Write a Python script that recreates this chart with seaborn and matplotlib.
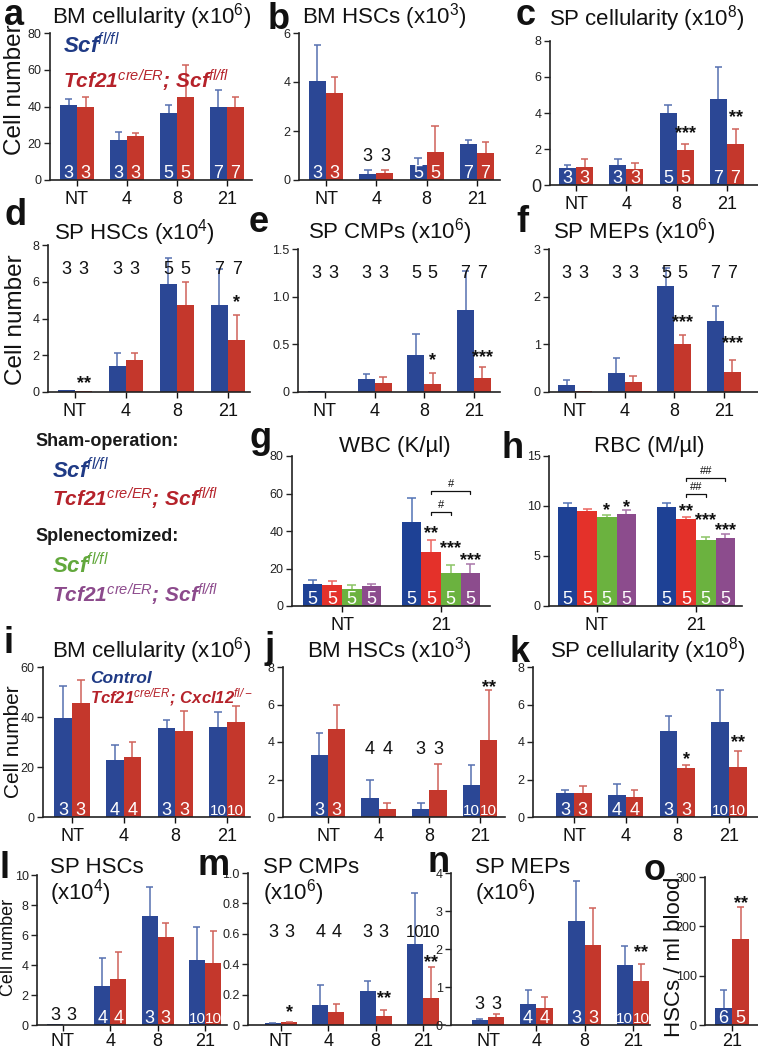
import numpy as np
import pandas as pd
import matplotlib
matplotlib.use("Agg")
import matplotlib.pyplot as plt
import seaborn as sns

sns.set_theme(style="ticks")
plt.rcParams["font.family"] = ["Liberation Sans", "DejaVu Sans"]
plt.rcParams["mathtext.fontset"] = "custom"
plt.rcParams["mathtext.rm"] = "Liberation Sans"
plt.rcParams["mathtext.it"] = "Liberation Sans:italic:bold"
plt.rcParams["mathtext.bf"] = "Liberation Sans:bold"
plt.rcParams["mathtext.sf"] = "Liberation Sans:italic"

# ---------------- data ----------------
days = ["NT", "4", "8", "21"]
days_gh = ["NT", "21"]
days_o = ["21"]

a_blue = [41, 21.5, 36.5, 40];      a_blue_top = [44, 26, 41, 49]
a_red = [39.5, 24, 45, 39.5];       a_red_top = [45, 25.5, 62.5, 45]
b_blue = [4.05, 0.25, 0.62, 1.45];  b_blue_top = [5.5, 0.42, 0.9, 1.65]
b_red = [3.55, 0.3, 1.15, 1.1];     b_red_top = [4.2, 0.42, 2.2, 1.55]
c_blue = [0.97, 1.1, 4.02, 4.8];    c_blue_top = [1.1, 1.47, 4.42, 6.57]
c_red = [1.02, 0.88, 1.97, 2.25];   c_red_top = [1.42, 1.22, 2.25, 3.1]
d_blue = [0.1, 1.4, 5.9, 4.75];     d_blue_top = [0.1, 2.12, 7.3, 6.7]
d_red = [0.04, 1.75, 4.75, 2.85];   d_red_top = [0.04, 2.1, 6.0, 4.2]
e_blue = [0.01, 0.135, 0.39, 0.855]; e_blue_top = [0.01, 0.19, 0.61, 1.27]
e_red = [0.005, 0.09, 0.085, 0.15];  e_red_top = [0.005, 0.16, 0.2, 0.26]
f_blue = [0.15, 0.4, 2.22, 1.48];   f_blue_top = [0.25, 0.72, 2.6, 1.8]
f_red = [0.03, 0.22, 1.0, 0.42];    f_red_top = [0.03, 0.33, 1.2, 0.68]
n_ab = [3, 3, 5, 7]

g_blue = [12, 45];     g_blue_top = [14, 57.5]
g_red = [11, 29];      g_red_top = [13.5, 35]
g_green = [9, 17.5];   g_green_top = [11, 22]
g_purple = [10.5, 17.5]; g_purple_top = [12, 22.5]
h_blue = [9.9, 9.9];   h_blue_top = [10.3, 10.35]
h_red = [9.5, 8.7];    h_red_top = [9.75, 8.95]
h_green = [8.9, 6.6];  h_green_top = [9.15, 6.95]
h_purple = [9.2, 6.8]; h_purple_top = [9.6, 7.25]
n_gh = [5, 5]

i_blue = [39.5, 23, 35.5, 36];     i_blue_top = [52.5, 29, 39, 42]
i_red = [45.5, 24, 34.5, 38];      i_red_top = [55, 30, 42.5, 44.5]
j_blue = [3.3, 1.0, 0.45, 1.7];    j_blue_top = [4.5, 2.0, 0.75, 2.75]
j_red = [4.7, 0.45, 1.45, 4.1];    j_red_top = [5.95, 0.75, 2.85, 6.75]
k_blue = [1.3, 1.15, 4.6, 5.05];   k_blue_top = [1.45, 1.75, 5.4, 6.8]
k_red = [1.3, 1.05, 2.6, 2.65];    k_red_top = [1.65, 1.45, 2.75, 3.5]
l_blue = [0.08, 2.6, 7.3, 4.35];   l_blue_top = [0.08, 4.5, 9.2, 6.55]
l_red = [0.03, 3.1, 5.85, 4.15];   l_red_top = [0.03, 4.85, 6.8, 6.3]
m_blue = [0.01, 0.13, 0.225, 0.53]; m_blue_top = [0.012, 0.26, 0.29, 0.87]
m_red = [0.018, 0.085, 0.06, 0.175]; m_red_top = [0.022, 0.14, 0.1, 0.38]
nn_blue = [0.12, 0.55, 2.73, 1.58]; nn_blue_top = [0.16, 0.92, 3.78, 2.07]
nn_red = [0.2, 0.45, 2.1, 1.15];    nn_red_top = [0.3, 0.75, 3.07, 1.6]
n_il = [3, 4, 3, 10]
o_blue = [35];  o_blue_top = [70]
o_red = [175];  o_red_top = [240]
n_o_blue = [6]; n_o_red = [5]

# ---------------- styling ----------------
W, H = 758, 1049
fig = plt.figure(figsize=(W / 100, H / 100), dpi=100)

BLUE, RED = "#2B4795", "#C4372C"
BLUE_E, RED_E = "#5670B0", "#D0625A"
GH = ["#1E4195", "#E4312A", "#6BB23F", "#8C4C8D"]
GH_E = ["#5273B5", "#EC6660", "#8CC466", "#A875A8"]
TXT_BLUE, TXT_RED, TXT_GREEN, TXT_PURPLE = "#1F3A85", "#B5222A", "#62A83C", "#8C4A8C"


def make_ax(x0, x1, ytop, yzero):
    return fig.add_axes([x0 / W, 1 - yzero / H, (x1 - x0) / W, (yzero - ytop) / H])


def ftext(xpx, ypx, s, **kw):
    kw.setdefault("va", "baseline")
    kw.setdefault("ha", "left")
    fig.text(xpx / W, 1 - ypx / H, s, **kw)


def panel(ax, cats, vals, tops, pal, epal, width, ymax, yticks, ylabels, x0, x1, c0, cL, xpad=4):
    hues = ["g%d" % i for i in range(len(vals))]
    df = pd.DataFrame({
        "day": [c for v in vals for c in cats],
        "grp": [h for h, v in zip(hues, vals) for _ in cats],
        "val": [x for v in vals for x in v],
    })
    sns.barplot(data=df, x="day", y="val", hue="grp", order=cats, hue_order=hues,
                palette=pal, width=width, errorbar=None, saturation=1,
                legend=False, ax=ax, linewidth=0)
    centers = []
    for i, cont in enumerate(ax.containers):
        cs = []
        for j, bar in enumerate(cont):
            cx = bar.get_x() + bar.get_width() / 2
            h = bar.get_height()
            cs.append(cx)
            t = tops[i][j]
            if t > h:
                hw = bar.get_width() * 0.22
                ax.plot([cx, cx], [h, t], color=epal[i], lw=1.1, solid_capstyle="butt")
                ax.plot([cx - hw, cx + hw], [t, t], color=epal[i], lw=1.1, solid_capstyle="butt")
        centers.append(cs)
    n = len(cats)
    if n > 1:
        s = (cL - c0) / (n - 1)
    else:
        s = 50.0
    ax.set_xlim(-(c0 - x0) / s, (n - 1) + (x1 - cL) / s)
    ax.set_ylim(0, ymax)
    ax.set_yticks(yticks)
    ax.set_yticklabels(ylabels)
    ax.set_xlabel("")
    ax.set_ylabel("")
    sns.despine(ax=ax)
    for sp in ("left", "bottom"):
        ax.spines[sp].set_linewidth(1.2)
        ax.spines[sp].set_color("#222222")
    ax.tick_params(axis="y", labelsize=9, length=4, width=1.0, pad=2, colors="#222222")
    ax.tick_params(axis="x", labelsize=13, length=4, width=1.0, pad=xpad, colors="#111111")
    ax.patch.set_alpha(0)
    return centers


def n_inside(ax, centers, nlist, idx, color="white", size=13):
    for i, cs in enumerate(centers):
        for j in idx:
            lab = str(nlist[i][j])
            ax.annotate(lab, (cs[j], 0), xytext=(0, 1.5), textcoords="offset points",
                        ha="center", va="baseline", color=color,
                        fontsize=(11 if len(lab) > 1 else size))


def n_above(ax, centers, nlist, idx, y):
    for i, cs in enumerate(centers):
        for j in idx:
            lab = str(nlist[i][j])
            ax.annotate(lab, (cs[j], y), xytext=(0, -4.7), textcoords="offset points",
                        ha="center", va="baseline", color="#111111",
                        fontsize=(12 if len(lab) > 1 else 13))


def stars(ax, centers, specs):
    for hi, ci, y, s in specs:
        ax.annotate(s, (centers[hi][ci], y), xytext=(0, -7.5), textcoords="offset points",
                    ha="center", va="baseline", fontsize=13, fontweight="bold", color="#111111")


def bracket(ax, centers, specs, dy):
    for h1, h2, ci, y, s in specs:
        xa, xb = centers[h1][ci], centers[h2][ci]
        ax.plot([xa, xa, xb, xb], [y - dy, y, y, y - dy], color="#111111", lw=0.9)
        ax.annotate(s, ((xa + xb) / 2, y), xytext=(0, 1.5), textcoords="offset points",
                    ha="center", va="bottom", fontsize=8, color="#111111")


TS = 16      # title size
LS = 26      # panel letter size


def letter(x, y, s):
    ftext(x, y, s, fontsize=LS, fontweight="bold", color="#111111")


def title(x, y, s, **kw):
    ftext(x, y, s, fontsize=TS, color="#111111", **kw)


def geno(x, y, s, size, color):
    ftext(x, y, s, fontsize=size, color=color, fontstyle="italic", fontweight="bold")


scf = r"Scf$^{\mathsf{fl/fl}}$"
tcf_scf = r"Tcf21$^{\mathsf{cre/ER}}$; Scf$^{\mathsf{fl/fl}}$"
tcf_cx = r"Tcf21$^{\mathsf{cre/ER}}$; Cxcl12$^{\mathsf{fl/-}}$"

# ---------------- row 1 ----------------
ax = make_ax(50, 252, 33, 180)
cs = panel(ax, days, [a_blue, a_red], [a_blue_top, a_red_top], [BLUE, RED], [BLUE_E, RED_E],
           0.68, 80, [0, 20, 40, 60, 80], ["0", "20", "40", "60", "80"], 50, 252, 77, 227)
n_inside(ax, cs, [n_ab, n_ab], range(4))
letter(4, 25, "a"); title(52, 24, "BM cellularity (x10$^{6}$)")
geno(63, 53, scf, 16, TXT_BLUE)
geno(63, 88, tcf_scf, 15, TXT_RED)

ax = make_ax(299, 500, 33, 180)
cs = panel(ax, days, [b_blue, b_red], [b_blue_top, b_red_top], [BLUE, RED], [BLUE_E, RED_E],
           0.68, 6, [0, 2, 4, 6], ["0", "2", "4", "6"], 299, 500, 326, 477)
n_inside(ax, cs, [n_ab, n_ab], [0, 2, 3])
n_above(ax, cs, [n_ab, n_ab], [1], 1.05)
letter(268, 29, "b"); title(302, 24, "BM HSCs (x10$^{3}$)")

ax = make_ax(550, 758, 41, 185)
cs = panel(ax, days, [c_blue, c_red], [c_blue_top, c_red_top], [BLUE, RED], [BLUE_E, RED_E],
           0.68, 8, [0, 2, 4, 6, 8], ["0", "2", "4", "6", "8"], 550, 758, 576, 727)
ax.get_yticklabels()[0].set_fontsize(13)
n_inside(ax, cs, [n_ab, n_ab], range(4))
stars(ax, cs, [(1, 2, 3.2, "***"), (1, 3, 4.05, "**")])
letter(516, 25, "c"); title(549, 25, "SP cellularity (x10$^{8}$)")

ftext(15, 90, "Cell number", fontsize=17.5, rotation=90, ha="center", va="center", color="#111111")

# ---------------- row 2 ----------------
ax = make_ax(48, 250, 245, 392)
cs = panel(ax, days, [d_blue, d_red], [d_blue_top, d_red_top], [BLUE, RED], [BLUE_E, RED_E],
           0.68, 8, [0, 2, 4, 6, 8], ["0", "2", "4", "6", "8"], 48, 250, 75, 228)
n_above(ax, cs, [n_ab, n_ab], range(4), 6.75)
stars(ax, cs, [(1, 0, 0.8, "**"), (1, 3, 5.2, "*")])
letter(5, 225, "d"); title(54, 239, "SP HSCs (x10$^{4}$)")
ftext(16, 320, "Cell number", fontsize=17.5, rotation=90, ha="center", va="center", color="#111111")

ax = make_ax(298, 500, 249, 392)
cs = panel(ax, days, [e_blue, e_red], [e_blue_top, e_red_top], [BLUE, RED], [BLUE_E, RED_E],
           0.68, 1.5, [0, 0.5, 1.0, 1.5], ["0", "0.5", "1.0", "1.5"], 298, 500, 325, 474)
n_above(ax, cs, [n_ab, n_ab], range(4), 1.26)
stars(ax, cs, [(1, 2, 0.39, "*"), (1, 3, 0.42, "***")])
letter(249, 232, "e"); title(308, 238, "SP CMPs (x10$^{6}$)")

ax = make_ax(549, 758, 249, 392)
cs = panel(ax, days, [f_blue, f_red], [f_blue_top, f_red_top], [BLUE, RED], [BLUE_E, RED_E],
           0.68, 3, [0, 1, 2, 3], ["0", "1", "2", "3"], 549, 758, 575, 724)
n_above(ax, cs, [n_ab, n_ab], range(4), 2.52)
stars(ax, cs, [(1, 2, 1.57, "***"), (1, 3, 1.13, "***")])
letter(516, 232, "f"); title(553, 238, "SP MEPs (x10$^{6}$)")

# ---------------- row 3 ----------------
ftext(35, 446, "Sham-operation:", fontsize=13, fontweight="bold", color="#1a1a1a")
geno(52, 478, scf, 16, TXT_BLUE)
geno(52, 506, tcf_scf, 15, TXT_RED)
ftext(35, 541, "Splenectomized:", fontsize=13, fontweight="bold", color="#1a1a1a")
geno(52, 573, scf, 16, TXT_GREEN)
geno(52, 603, tcf_scf, 15, TXT_PURPLE)

ax = make_ax(292, 490, 456, 606)
cs = panel(ax, days_gh, [g_blue, g_red, g_green, g_purple],
           [g_blue_top, g_red_top, g_green_top, g_purple_top], GH, GH_E,
           0.79, 80, [0, 20, 40, 60, 80], ["0", "20", "40", "60", "80"], 292, 490, 342, 441)
n_inside(ax, cs, [n_gh] * 4, range(2))
stars(ax, cs, [(1, 1, 41.6, "**"), (2, 1, 33.6, "***"), (3, 1, 27.2, "***")])
bracket(ax, cs, [(1, 2, 1, 50, "#"), (1, 3, 1, 61.3, "#")], 1.6)
letter(249, 448, "g"); title(395, 452, "WBC (K/µl)", ha="center")

ax = make_ax(549, 742, 456, 606)
cs = panel(ax, days_gh, [h_blue, h_red, h_green, h_purple],
           [h_blue_top, h_red_top, h_green_top, h_purple_top], GH, GH_E,
           0.79, 15, [0, 5, 10, 15], ["0", "5", "10", "15"], 549, 742, 597, 696)
n_inside(ax, cs, [n_gh] * 4, range(2))
stars(ax, cs, [(2, 0, 10.1, "*"), (3, 0, 10.4, "*"), (1, 1, 10.0, "**"),
               (2, 1, 9.1, "***"), (3, 1, 8.1, "***")])
bracket(ax, cs, [(1, 2, 1, 11.2, "##"), (1, 3, 1, 12.8, "##")], 0.3)
letter(501, 458, "h"); title(649, 452, "RBC (M/µl)", ha="center")

# ---------------- row 4 ----------------
ax = make_ax(43, 250, 667, 817)
cs = panel(ax, days, [i_blue, i_red], [i_blue_top, i_red_top], [BLUE, RED], [BLUE_E, RED_E],
           0.68, 60, [0, 20, 40, 60], ["0", "20", "40", "60"], 43, 250, 72, 227)
n_inside(ax, cs, [n_il, n_il], range(4))
letter(3, 653, "i"); title(52, 658, "BM cellularity (x10$^{6}$)")
geno(90, 683, "Control", 12.5, TXT_BLUE)
geno(90, 703, tcf_cx, 12, TXT_RED)
ftext(14, 742, "Cell number", fontsize=15, rotation=90, ha="center", va="center", color="#111111")

ax = make_ax(283, 505, 667, 817)
cs = panel(ax, days, [j_blue, j_red], [j_blue_top, j_red_top], [BLUE, RED], [BLUE_E, RED_E],
           0.68, 8, [0, 2, 4, 6, 8], ["0", "2", "4", "6", "8"], 283, 505, 328, 480)
n_inside(ax, cs, [n_il, n_il], [0, 3])
n_above(ax, cs, [n_il, n_il], [1, 2], 3.7)
stars(ax, cs, [(1, 3, 7.2, "**")])
letter(264, 658, "j"); title(307, 658, "BM HSCs (x10$^{3}$)")

ax = make_ax(533, 758, 667, 817)
cs = panel(ax, days, [k_blue, k_red], [k_blue_top, k_red_top], [BLUE, RED], [BLUE_E, RED_E],
           0.68, 8, [0, 2, 4, 6, 8], ["0", "2", "4", "6", "8"], 533, 758, 574, 729)
n_inside(ax, cs, [n_il, n_il], range(4))
stars(ax, cs, [(1, 2, 3.4, "*"), (1, 3, 4.27, "**")])
letter(509, 662, "k"); title(550, 658, "SP cellularity (x10$^{8}$)")

# ---------------- row 5 ----------------
ax = make_ax(37, 227, 875, 1025)
cs = panel(ax, days, [l_blue, l_red], [l_blue_top, l_red_top], [BLUE, RED], [BLUE_E, RED_E],
           0.68, 10, [0, 2, 4, 6, 8, 10], ["0", "2", "4", "6", "8", "10"], 37, 227, 63, 205, xpad=1.5)
n_inside(ax, cs, [n_il, n_il], [1, 2, 3])
n_above(ax, cs, [n_il, n_il], [0], 0.8)
letter(0, 878, "l"); title(50, 873, "SP HSCs"); title(50, 900, "(x10$^{4}$)")
ftext(9, 947, "Cell number", fontsize=13, rotation=90, ha="center", va="center", color="#111111")

ax = make_ax(248, 445, 873, 1025)
cs = panel(ax, days, [m_blue, m_red], [m_blue_top, m_red_top], [BLUE, RED], [BLUE_E, RED_E],
           0.68, 1.0, [0, 0.2, 0.4, 0.6, 0.8, 1.0], ["0", "0.2", "0.4", "0.6", "0.8", "1.0"],
           248, 445, 281, 423, xpad=1.5)
n_above(ax, cs, [n_il, n_il], range(4), 0.625)
stars(ax, cs, [(1, 0, 0.12, "*"), (1, 2, 0.21, "**"), (1, 3, 0.45, "**")])
letter(197, 875, "m"); title(263, 873, "SP CMPs"); title(263, 900, "(x10$^{6}$)")

ax = make_ax(451, 650, 873, 1025)
cs = panel(ax, days, [nn_blue, nn_red], [nn_blue_top, nn_red_top], [BLUE, RED], [BLUE_E, RED_E],
           0.68, 4, [0, 1, 2, 3, 4], ["0", "1", "2", "3", "4"], 451, 650, 488, 633, xpad=1.5)
n_inside(ax, cs, [n_il, n_il], [1, 2, 3])
n_above(ax, cs, [n_il, n_il], [0], 0.6)
stars(ax, cs, [(1, 3, 2.05, "**")])
letter(427, 872, "n"); title(475, 873, "SP MEPs"); title(475, 900, "(x10$^{6}$)")

ax = make_ax(705, 758, 877, 1025)
cs = panel(ax, days_o, [o_blue, o_red], [o_blue_top, o_red_top], [BLUE, RED], [BLUE_E, RED_E],
           0.68, 300, [0, 100, 200, 300], ["0", "100", "200", "300"], 705, 758, 732, 732, xpad=1.5)
n_inside(ax, cs, [n_o_blue, n_o_red], [0])
stars(ax, cs, [(1, 0, 259, "**")])
letter(644, 880, "o")
ftext(675, 957, "HSCs / ml blood", fontsize=16, rotation=90, ha="center", va="center", color="#111111")

fig.savefig("out.png", dpi=100)
